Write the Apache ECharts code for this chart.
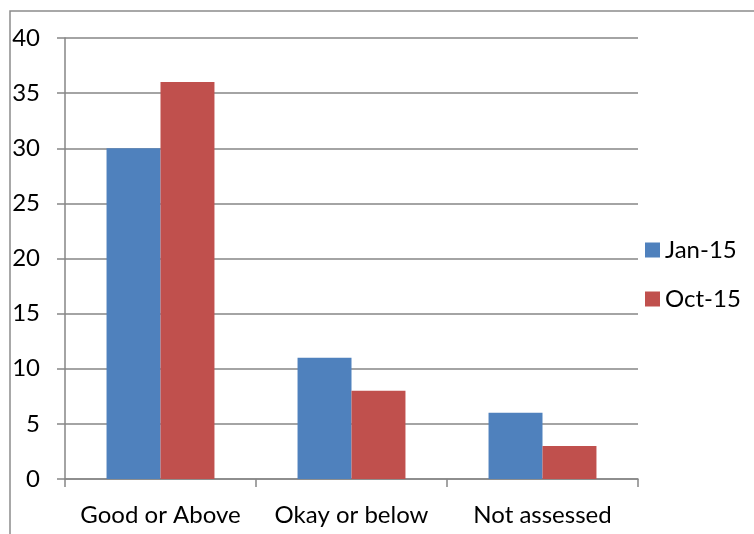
<!DOCTYPE html>
<html>
<head>
<meta charset="utf-8">
<script src="https://cdn.jsdelivr.net/npm/echarts@6/dist/echarts.min.js"></script>
<style>
  html, body { margin: 0; padding: 0; background: #fff; }
  #chart { width: 754px; height: 534px; }
</style>
</head>
<body>
<div id="chart"></div>
<script>
// Ratings at each review point
const categories = ['Good or Above', 'Okay or below', 'Not assessed'];
const jan15 = [30, 11, 6];
const oct15 = [36, 8, 3];
const seriesNames = ['Jan-15', 'Oct-15'];

const FONT = 'Lato';
const FONT_SIZE = 24;
const chart = echarts.init(document.getElementById('chart'), null, { renderer: 'canvas' });

chart.setOption({
  backgroundColor: '#ffffff',
  animation: false,
  textStyle: { fontFamily: FONT },
  graphic: [{
    type: 'rect',
    shape: { x: 10, y: 11, width: 800, height: 600 },
    style: { fill: 'none', stroke: '#8c8c8c', lineWidth: 1.5 },
    silent: true
  }],
  legend: {
    orient: 'vertical',
    left: 645,
    top: 238,
    padding: 0,
    itemWidth: 15,
    itemHeight: 15,
    itemGap: 25,
    icon: 'rect',
    textStyle: { fontFamily: FONT, fontSize: FONT_SIZE, color: '#000', lineHeight: 24 },
    data: seriesNames
  },
  grid: { left: 65, top: 38, width: 573, height: 441, containLabel: false },
  xAxis: {
    type: 'category',
    data: categories,
    axisLine: { lineStyle: { color: '#868686', width: 1.5 } },
    axisTick: { show: true, length: 8, lineStyle: { color: '#868686', width: 1.5 } },
    axisLabel: { interval: 0, hideOverlap: false, fontFamily: FONT, fontSize: FONT_SIZE, color: '#000', margin: 24 },
    splitLine: { show: false }
  },
  yAxis: {
    type: 'value',
    min: 0,
    max: 40,
    interval: 5,
    axisLine: { show: true, lineStyle: { color: '#868686', width: 1.5 } },
    axisTick: { show: true, length: 8, lineStyle: { color: '#868686', width: 1.5 } },
    axisLabel: { fontFamily: FONT, fontSize: FONT_SIZE, color: '#000', margin: 25 },
    splitLine: { show: true, lineStyle: { color: '#868686', width: 1.5 } }
  },
  series: [
    {
      name: seriesNames[0],
      type: 'bar',
      data: jan15,
      itemStyle: { color: '#4F81BD' },
      barGap: '0%',
      barCategoryGap: '43.5%'
    },
    {
      name: seriesNames[1],
      type: 'bar',
      data: oct15,
      itemStyle: { color: '#C0504D' },
      barGap: '0%',
      barCategoryGap: '43.5%'
    }
  ]
});
</script>
</body>
</html>
